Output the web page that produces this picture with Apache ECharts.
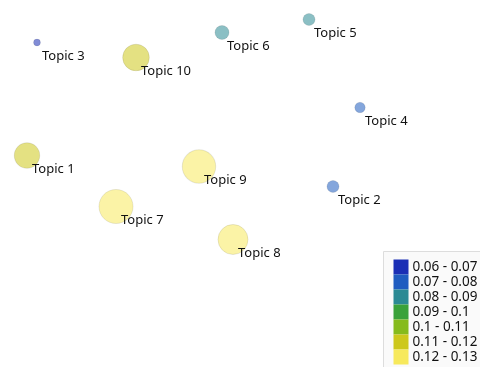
<!DOCTYPE html>
<html>
<head>
<meta charset="utf-8">
<script src="https://cdn.jsdelivr.net/npm/echarts@6/dist/echarts.min.js"></script>
<style>html,body{margin:0;padding:0;background:#fff}#c{width:480px;height:367px}</style>
</head>
<body>
<div id="c"></div>
<script>
const topics = ['Topic 1','Topic 2','Topic 3','Topic 4','Topic 5','Topic 6','Topic 7','Topic 8','Topic 9','Topic 10'];
const pc1 = [-0.223, 0.083, -0.213, 0.110, 0.059, -0.028, -0.134, -0.017, -0.051, -0.114];
const pc2 = [0.028, -0.003, 0.141, 0.076, 0.164, 0.151, -0.023, -0.056, 0.017, 0.126];
const score = [0.115, 0.075, 0.065, 0.075, 0.085, 0.085, 0.125, 0.125, 0.125, 0.115];
const share = [12.5, 2.8, 0.9, 2.1, 2.8, 3.8, 22.4, 17.4, 21.6, 13.7];
const rangeMin = [0.06, 0.07, 0.08, 0.09, 0.10, 0.11, 0.12];
const rangeMax = [0.07, 0.08, 0.09, 0.10, 0.11, 0.12, 0.13];
const rangeLabels = ['0.06 - 0.07','0.07 - 0.08','0.08 - 0.09','0.09 - 0.1','0.1 - 0.11','0.11 - 0.12','0.12 - 0.13'];
const rangeColors = ['#1a2eb5','#1f5cc0','#2b8a94','#3aa23a','#86bb1c','#cdc81c','#f7e95c'];

const data = topics.map((t, i) => [pc1[i], pc2[i], score[i], share[i], t]);
const pieces = rangeLabels.map((l, i) => ({min: rangeMin[i], max: rangeMax[i], label: l, color: rangeColors[i]}));

const chart = echarts.init(document.getElementById('c'));
chart.setOption({
  animation: false,
  grid: {left: 0, right: 0, top: 0, bottom: 0},
  xAxis: {type: 'value', min: -0.25, max: 0.23, show: false},
  yAxis: {type: 'value', min: -0.1835, max: 0.1835, show: false},
  visualMap: {
    type: 'piecewise',
    dimension: 2,
    pieces: pieces,
    orient: 'vertical',
    inverse: true,
    align: 'left',
    left: 383,
    top: 251,
    padding: [8, 14, 8, 10],
    itemWidth: 15,
    itemHeight: 15,
    itemGap: 0,
    itemSymbol: 'rect',
    textGap: 4,
    backgroundColor: '#fafafa',
    borderColor: '#dddddd',
    borderWidth: 1,
    textStyle: {fontFamily: 'Noto Sans', fontSize: 13.5, color: '#111'}
  },
  series: [{
    type: 'scatter',
    data: data,
    symbolSize: v => Math.sqrt(v[3]) * 7.2,
    itemStyle: {opacity: 0.55, borderWidth: 1, borderColor: 'rgba(0,0,0,0.16)'},
    label: {
      show: true,
      opacity: 1,
      position: 'inside',
      align: 'left',
      verticalAlign: 'middle',
      offset: [5, 14],
      formatter: p => p.data[4],
      fontFamily: 'Noto Sans',
      fontSize: 13,
      color: '#111'
    }
  }]
});
</script>
</body>
</html>
